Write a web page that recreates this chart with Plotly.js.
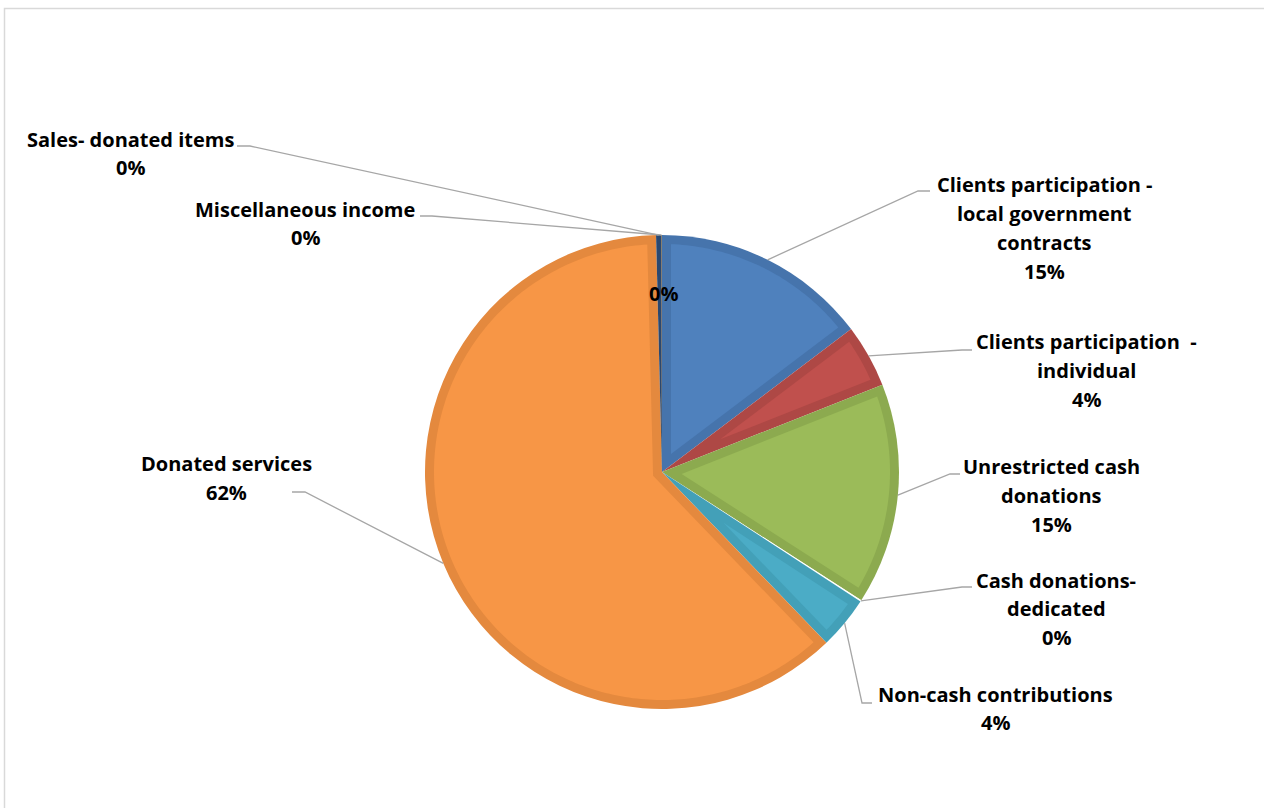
<!DOCTYPE html>
<html>
<head>
<meta charset="utf-8">
<script src="https://cdn.plot.ly/plotly-3.0.1.min.js"></script>
<style>html,body{margin:0;padding:0;background:#fff;}#chart{width:1264px;height:808px;}</style>
</head>
<body>
<div id="chart"></div>
<script>
// ---- data ----
const categories = ["Clients participation - local government contracts", "Clients participation  - individual", "Unrestricted cash donations", "Cash donations-dedicated", "Non-cash contributions", "Donated services", "Sales- donated items", "Miscellaneous income", ""];
const labelLines = [
  ["Clients participation -", "local government", "contracts"],
  ["Clients participation  -", "individual"],
  ["Unrestricted cash", "donations"],
  ["Cash donations-", "dedicated"],
  ["Non-cash contributions"],
  ["Donated services"],
  ["Sales- donated items"],
  ["Miscellaneous income"],
  []
];
const values = [14.7, 4.3, 15.1, 0.1, 3.6, 61.8, 0.35, 0.03, 0.02];
const fillColors = ["#4F81BD", "#C0504D", "#9BBB59", "#FFFFFF", "#4BACC6", "#F79646", "#2C4D75", "#772C2A", "#5F7530"];
const bandColors = ["#4674AC", "#AE4845", "#8CAA4F", "#FFFFFF", "#43A0B8", "#E4893E", "#2A4870", "#6E2927", "#586D2C"];

// ---- layout geometry (pixels) ----
const W = 1264, H = 808;
const cx = 662, cy = 472, R = 237, band = 9;
// label anchor: [center x, first line y]; leader: [start, elbow] or null (inside label)
const labelPos = [[1044, 185], [1086, 342], [1051, 467], [1056, 580], [995, 694], [226, 464], [130, 139], [305, 209], null];
const leaderPts = [
  [[930, 191], [918, 191]],
  [[972, 350], [962, 350]],
  [[960, 474], [950, 474]],
  [[972, 587], [962, 587]],
  [[872, 703], [862, 703]],
  [[292, 492], [305, 492]],
  [[237, 146], [250, 146]],
  [[420, 216], [432, 216]],
  null
];
const lineGap = 28.7;
const FONT = "'Open Sans', 'Noto Sans', sans-serif";
const FSIZE = 20;

const px = x => x / W;
const py = y => 1 - y / H;
function pt(angDeg, rad) {
  const a = angDeg * Math.PI / 180;
  return [cx + rad * Math.sin(a), cy - rad * Math.cos(a)];
}
function P(p) { return px(p[0]).toFixed(6) + ',' + py(p[1]).toFixed(6); }

const total = values.reduce((s, v) => s + v, 0);
const starts = [], ends = [];
let acc = 0;
values.forEach(v => { starts.push(acc / total * 360); acc += v; ends.push(acc / total * 360); });
const pctText = values.map(v => Math.round(v / total * 100) + '%');

const shapes = [];
// frame
shapes.push({type: 'rect', xref: 'paper', yref: 'paper', x0: px(4.5), x1: px(1275), y0: py(8.5), y1: py(820),
  line: {color: '#D9D9D9', width: 1.5}, fillcolor: 'rgba(0,0,0,0)', layer: 'below'});

// inner (lighter) faces of each slice, inset by the band width
values.forEach((v, i) => {
  const a1 = starts[i], a2 = ends[i], th = a2 - a1;
  if (th < 6) return;
  const Rp = R - band;
  const d = Math.asin(band / Rp) * 180 / Math.PI;
  const apex = pt((a1 + a2) / 2, band / Math.sin(th / 2 * Math.PI / 180));
  let path = 'M' + P(apex);
  const n = Math.max(4, Math.ceil((th - 2 * d) / 1));
  for (let k = 0; k <= n; k++) {
    const a = a1 + d + (th - 2 * d) * k / n;
    path += ' L' + P(pt(a, Rp));
  }
  path += ' Z';
  shapes.push({type: 'path', xref: 'paper', yref: 'paper', path: path, fillcolor: fillColors[i], line: {width: 0}, layer: 'above'});
});

// leader lines and labels
const annotations = [];
values.forEach((v, i) => {
  const mid = (starts[i] + ends[i]) / 2;
  if (leaderPts[i]) {
    const end = pt(mid, R);
    const [s, e] = leaderPts[i];
    shapes.push({type: 'path', xref: 'paper', yref: 'paper', path: 'M' + P(s) + ' L' + P(e) + ' L' + P(end),
      line: {color: '#A6A6A6', width: 1.3}, layer: 'above'});
    const lines = labelLines[i].concat([pctText[i]]);
    lines.forEach((t, k) => {
      annotations.push({xref: 'paper', yref: 'paper', x: px(labelPos[i][0]), y: py(labelPos[i][1] + k * lineGap),
        xanchor: 'center', yanchor: 'middle', showarrow: false, text: '<b>' + t + '</b>',
        font: {family: FONT, size: FSIZE, color: '#000000'}});
    });
  } else {
    const p = pt(mid, R * 0.755);
    annotations.push({xref: 'paper', yref: 'paper', x: px(p[0] + 2), y: py(p[1]), xanchor: 'center', yanchor: 'middle',
      showarrow: false, text: '<b>' + pctText[i] + '</b>', font: {family: FONT, size: FSIZE, color: '#000000'}});
  }
});

const trace = {
  type: 'pie',
  values: values,
  labels: categories.map((c, i) => c === '' ? ' ' : c),
  sort: false,
  direction: 'clockwise',
  rotation: 0,
  textinfo: 'none',
  hoverinfo: 'label+percent',
  marker: {colors: bandColors, line: {width: 0}},
  domain: {x: [(cx - R) / W, (cx + R) / W], y: [1 - (cy + R) / H, 1 - (cy - R) / H]},
  showlegend: false
};

Plotly.newPlot('chart', [trace], {
  width: W, height: H,
  margin: {l: 0, r: 0, t: 0, b: 0},
  paper_bgcolor: '#FFFFFF',
  plot_bgcolor: '#FFFFFF',
  showlegend: false,
  shapes: shapes,
  annotations: annotations
}, {displayModeBar: false, staticPlot: true});
</script>
</body>
</html>
